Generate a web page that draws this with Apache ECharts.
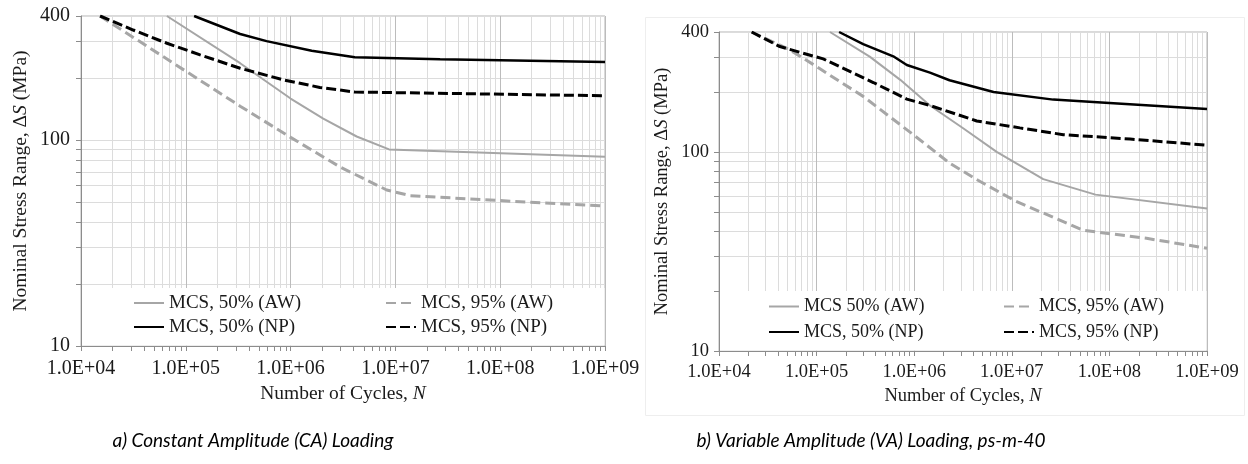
<!DOCTYPE html>
<html><head><meta charset="utf-8">
<script src="https://cdn.jsdelivr.net/npm/echarts@6/dist/echarts.min.js"></script>
<style>html,body{margin:0;padding:0;background:#fff}#c{width:1248px;height:464px}</style>
</head><body><div id="c"></div>
<script>
// ---- tick / grid values ----
const xTickLabels = [1e4, 1e5, 1e6, 1e7, 1e8, 1e9];
const yTickLabels = [10, 100, 400];
const xGridValues = [
  1e4,2e4,3e4,4e4,5e4,6e4,7e4,8e4,9e4,
  1e5,2e5,3e5,4e5,5e5,6e5,7e5,8e5,9e5,
  1e6,2e6,3e6,4e6,5e6,6e6,7e6,8e6,9e6,
  1e7,2e7,3e7,4e7,5e7,6e7,7e7,8e7,9e7,
  1e8,2e8,3e8,4e8,5e8,6e8,7e8,8e8,9e8,
  1e9];
const yGridValues = [10,20,30,40,50,60,70,80,90,100,200,300,400];

// ---- (a) Constant Amplitude ----
const caN_50AW = [6.6e4, 3.3e5, 1.0e6, 2.05e6, 4.27e6, 8.7e6, 1e9];
const caS_50AW = [400, 236, 159, 127, 104, 90, 83];
const caN_95AW = [1.52e4, 3.3e5, 1.0e6, 2.96e6, 8.26e6, 1.38e7, 1e8, 1e9];
const caS_95AW = [400, 146, 103, 74, 57.2, 53.7, 50.8, 47.8];
const caN_50NP = [1.2e5, 3.3e5, 5.9e5, 1.59e6, 4.1e6, 2.67e7, 1e9];
const caS_50NP = [400, 327, 302, 271, 252, 247, 239];
const caN_95NP = [1.52e4, 3.15e4, 6.6e4, 1.37e5, 3.3e5, 8.5e5, 1.9e6, 4.1e6, 1e9];
const caS_95NP = [400, 342, 295, 259, 223, 196, 180, 171, 164];

// ---- (b) Variable Amplitude ----
const vaN_50AW = [1.37e5, 3.5e5, 7.2e5, 1.45e6, 3.2e6, 7.0e6, 2.1e7, 7.2e7, 1e9];
const vaS_50AW = [400, 301, 230, 171, 131, 100, 73, 61, 52];
const vaN_95AW = [2.16e4, 5.34e4, 1.0e5, 1.74e5, 3.0e5, 9.8e5, 2.33e6, 4.5e6, 1.1e7, 5.4e7, 2.4e8, 1e9];
const vaS_95AW = [400, 325, 268, 225, 190, 122, 87.5, 72, 56.5, 40.4, 36.8, 32.8];
const vaN_50NP = [1.7e5, 3.0e5, 6.1e5, 8.4e5, 1.45e6, 2.3e6, 6.5e6, 2.66e7, 1e8, 1e9];
const vaS_50NP = [400, 348, 302, 273, 250, 229, 200, 183, 176, 164];
const vaN_95NP = [2.16e4, 4.2e4, 1.17e5, 3.81e5, 8.4e5, 1.45e6, 4.37e6, 1.21e7, 3.37e7, 1.63e8, 1e9];
const vaS_95NP = [400, 338, 293, 223, 184, 171, 143, 132, 122, 116, 108];

// ---- names ----
const namesA = ['MCS, 50% (AW)', 'MCS, 95% (AW)', 'MCS, 50% (NP)', 'MCS, 95% (NP)'];
const namesB = ['MCS 50% (AW)', 'MCS, 95% (AW)', 'MCS, 50% (NP)', 'MCS, 95% (NP)'];
const captionA = 'a) Constant Amplitude (CA) Loading';
const captionB = 'b) Variable Amplitude (VA) Loading, ps-m-40';

const pair = (n, s) => n.map((v, i) => [v, s[i]]);
const SERIF = '"Liberation Serif", "Times New Roman", serif';
const xGridColors = xGridValues.map((v, i) => (i % 9 === 0 ? '#bcbcbc' : '#dcdcdc'));
const fmtX = v => v.toExponential(1).toUpperCase().replace(/E\+(\d)$/, 'E+0$1');

function makeX(gi, fs, margin, nameGap, tfs) {
  return {
    type: 'log', logBase: 10, min: 1e4, max: 1e9, gridIndex: gi,
    axisLine: { show: true, lineStyle: { color: '#8c8c8c', width: 1 } },
    axisTick: { show: true, customValues: xGridValues, length: 5, lineStyle: { color: '#8c8c8c' } },
    axisLabel: { customValues: xTickLabels, formatter: fmtX, fontFamily: SERIF, fontSize: fs, color: '#1a1a1a', margin: margin },
    splitLine: { show: true, lineStyle: { color: xGridColors, width: 1 } },
    name: '{t|Number of Cycles, }{i|N}', nameLocation: 'middle', nameGap: nameGap,
    nameTextStyle: { rich: {
      t: { fontFamily: SERIF, fontSize: tfs, color: '#1a1a1a' },
      i: { fontFamily: SERIF, fontSize: tfs, color: '#1a1a1a', fontStyle: 'italic' } } }
  };
}
function makeY(gi, fs, margin, nameGap, tfs) {
  return {
    type: 'log', logBase: 10, min: 10, max: 400, gridIndex: gi,
    axisLine: { show: true, lineStyle: { color: '#8c8c8c', width: 1 } },
    axisTick: { show: true, customValues: yGridValues, length: 5, lineStyle: { color: '#8c8c8c' } },
    axisLabel: { customValues: yTickLabels, formatter: v => String(Math.round(v)), fontFamily: SERIF, fontSize: fs, color: '#1a1a1a', margin: margin },
    splitLine: { show: true, lineStyle: { color: '#dcdcdc', width: 1 } },
    name: '{t|Nominal Stress Range, Δ}{i|S}{t| (MPa)}', nameLocation: 'middle', nameGap: nameGap, nameRotate: 90,
    nameTextStyle: { rich: {
      t: { fontFamily: SERIF, fontSize: tfs, color: '#1a1a1a' },
      i: { fontFamily: SERIF, fontSize: tfs, color: '#1a1a1a', fontStyle: 'italic' } } }
  };
}
const styles = [
  { color: '#a6a6a6', width: 2, type: 'solid' },
  { color: '#a6a6a6', width: 3, type: [10, 5] },
  { color: '#000000', width: 2.5, type: 'solid' },
  { color: '#000000', width: 3, type: [10, 4] }
];
function line(name, data, gi, st) {
  return { type: 'line', name: name, data: data, xAxisIndex: gi, yAxisIndex: gi,
    symbol: 'none', showSymbol: false, silent: true, animation: false, z: 3,
    lineStyle: st, itemStyle: { color: st.color } };
}
function legend(data, left, top, fs, lh, gap) {
  return { data: data, orient: 'vertical', left: left, top: top, padding: 0,
    itemWidth: 30, itemHeight: 12, itemGap: gap, selectedMode: false,
    itemStyle: { opacity: 0 },
    textStyle: { fontFamily: SERIF, fontSize: fs, color: '#1a1a1a', lineHeight: lh } };
}

const chart = echarts.init(document.getElementById('c'), null, { renderer: 'canvas' });
chart.setOption({
  backgroundColor: '#ffffff',
  animation: false,
  grid: [
    { left: 81, top: 16, width: 524, height: 330, show: true, borderColor: '#b5b5b5', borderWidth: 1, backgroundColor: 'transparent' },
    { left: 719, top: 32, width: 488, height: 319, show: true, borderColor: '#b5b5b5', borderWidth: 1, backgroundColor: 'transparent' }
  ],
  xAxis: [ makeX(0, 20, 13, 37, 19.5), makeX(1, 18.5, 12, 34, 18.5) ],
  yAxis: [ makeY(0, 20, 11, 50, 19.5), makeY(1, 18.5, 10, 47, 18.5) ],
  legend: [
    legend([namesA[0], namesA[2]], 133, 293, 19, 20, 4),
    legend([namesA[1], namesA[3]], 385, 293, 19, 20, 4),
    legend([namesB[0], namesB[2]], 768, 297, 18, 19, 6.5),
    legend([namesB[1], namesB[3]], 1003, 297, 18, 19, 6.5)
  ],
  graphic: [
    { type: 'rect', z: 1, silent: true, shape: { x: 82, y: 288, width: 522.5, height: 57.5 }, style: { fill: '#ffffff' } },
    { type: 'rect', z: 1, silent: true, shape: { x: 720, y: 291, width: 486.5, height: 59.5 }, style: { fill: '#ffffff' } },
    { type: 'rect', z: 0, silent: true, shape: { x: 645.5, y: 17.5, width: 599, height: 398 }, style: { fill: 'none', stroke: '#eeeeee', lineWidth: 1 } },
    { type: 'text', silent: true, x: 253, y: 441, style: { text: captionA, textAlign: 'center', textVerticalAlign: 'middle', fontFamily: 'Lato, "Open Sans", sans-serif', fontStyle: 'italic', fontSize: 19, fill: '#000' } },
    { type: 'text', silent: true, x: 871, y: 441, style: { text: captionB, textAlign: 'center', textVerticalAlign: 'middle', fontFamily: 'Lato, "Open Sans", sans-serif', fontStyle: 'italic', fontSize: 19, fill: '#000' } }
  ],
  series: [
    line(namesA[0], pair(caN_50AW, caS_50AW), 0, styles[0]),
    line(namesA[1], pair(caN_95AW, caS_95AW), 0, styles[1]),
    line(namesA[2], pair(caN_50NP, caS_50NP), 0, styles[2]),
    line(namesA[3], pair(caN_95NP, caS_95NP), 0, styles[3]),
    line(namesB[0], pair(vaN_50AW, vaS_50AW), 1, styles[0]),
    line(namesB[1], pair(vaN_95AW, vaS_95AW), 1, styles[1]),
    line(namesB[2], pair(vaN_50NP, vaS_50NP), 1, styles[2]),
    line(namesB[3], pair(vaN_95NP, vaS_95NP), 1, styles[3])
  ]
});
</script></body></html>
